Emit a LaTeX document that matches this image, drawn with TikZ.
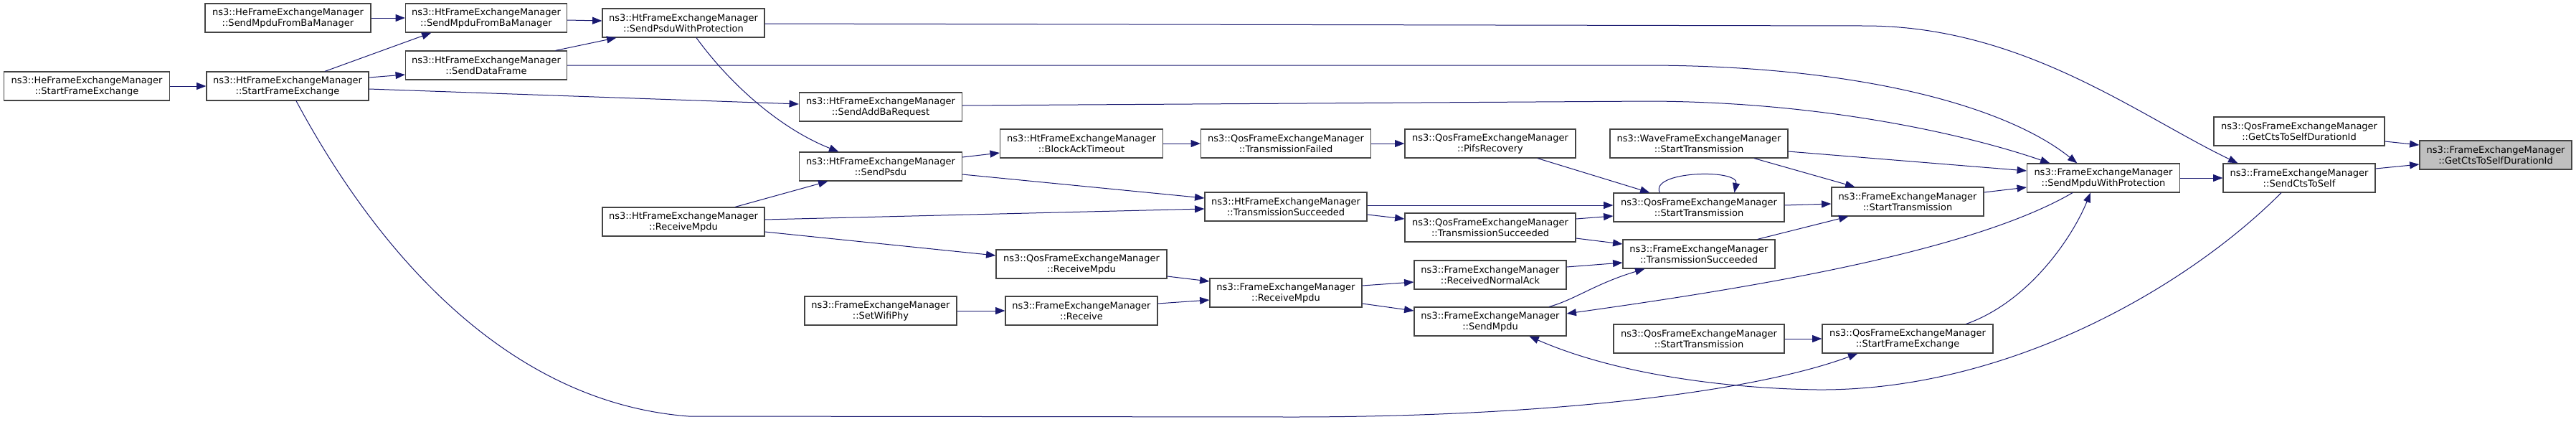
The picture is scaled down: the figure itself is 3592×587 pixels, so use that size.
\documentclass[tikz,border=0pt]{standalone}
\usepackage{fontspec}
\setmainfont{DejaVu Sans}
\usetikzlibrary{calc,arrows.meta}
\definecolor{edgecol}{HTML}{191970}
\definecolor{bordercol}{HTML}{444444}
\definecolor{grey75}{HTML}{BFBFBF}
\newcommand{\nodefont}{\fontsize{9.75pt}{11.25pt}\selectfont}
\begin{document}
\begin{tikzpicture}[x=0.75pt,y=-0.75pt,
  fb/.style={draw=bordercol, line width=0.9pt, fill=white, minimum width=#1*0.75pt,
    minimum height=30pt, inner sep=0pt, align=center, font=\nodefont},
  cl/.style={draw=edgecol, line width=0.75pt, -{Triangle[length=10pt,width=7.5pt]}}]
\useasboundingbox (0,0) rectangle (3592,587);

\node[fb=231] (heSFE) at (121,120) {ns3::HeFrameExchangeManager\\::StartFrameExchange};
\node[fb=231] (heSMBA) at (401.5,25) {ns3::HeFrameExchangeManager\\::SendMpduFromBaManager};
\node[fb=226] (htSFE) at (401,120) {ns3::HtFrameExchangeManager\\::StartFrameExchange};
\node[fb=225] (htSMBA) at (678,25) {ns3::HtFrameExchangeManager\\::SendMpduFromBaManager};
\node[fb=225] (htSDF) at (678,91) {ns3::HtFrameExchangeManager\\::SendDataFrame};
\node[fb=226] (htSPWP) at (953,32) {ns3::HtFrameExchangeManager\\::SendPsduWithProtection};
\node[fb=227] (htSABR) at (1228,149) {ns3::HtFrameExchangeManager\\::SendAddBaRequest};
\node[fb=227] (htSP) at (1228,232) {ns3::HtFrameExchangeManager\\::SendPsdu};
\node[fb=226] (htRM) at (953,309) {ns3::HtFrameExchangeManager\\::ReceiveMpdu};
\node[fb=212] (fSWP) at (1228,433) {ns3::FrameExchangeManager\\::SetWifiPhy};
\node[fb=227] (htBAT) at (1508,200) {ns3::HtFrameExchangeManager\\::BlockAckTimeout};
\node[fb=237] (qTF) at (1793,200) {ns3::QosFrameExchangeManager\\::TransmissionFailed};
\node[fb=226] (htTS) at (1793,288) {ns3::HtFrameExchangeManager\\::TransmissionSucceeded};
\node[fb=238] (qRM) at (1508,368) {ns3::QosFrameExchangeManager\\::ReceiveMpdu};
\node[fb=212] (fR) at (1508,433) {ns3::FrameExchangeManager\\::Receive};
\node[fb=212] (fRM) at (1793,408) {ns3::FrameExchangeManager\\::ReceiveMpdu};
\node[fb=238] (qPR) at (2078,200) {ns3::QosFrameExchangeManager\\::PifsRecovery};
\node[fb=248] (wST) at (2369,200) {ns3::WaveFrameExchangeManager\\::StartTransmission};
\node[fb=238] (qST) at (2369,289) {ns3::QosFrameExchangeManager\\::StartTransmission};
\node[fb=238] (qTS) at (2078,317) {ns3::QosFrameExchangeManager\\::TransmissionSucceeded};
\node[fb=212] (fTS) at (2369,354) {ns3::FrameExchangeManager\\::TransmissionSucceeded};
\node[fb=212] (fRNA) at (2078,383) {ns3::FrameExchangeManager\\::ReceivedNormalAck};
\node[fb=212] (fSM) at (2078,448) {ns3::FrameExchangeManager\\::SendMpdu};
\node[fb=238] (qST2) at (2369,472) {ns3::QosFrameExchangeManager\\::StartTransmission};
\node[fb=212] (fST) at (2660,281) {ns3::FrameExchangeManager\\::StartTransmission};
\node[fb=213] (fSMWP) at (2933,248) {ns3::FrameExchangeManager\\::SendMpduWithProtection};
\node[fb=238] (qSFE) at (2660,472) {ns3::QosFrameExchangeManager\\::StartFrameExchange};
\node[fb=238] (qGCTS) at (3206,183) {ns3::QosFrameExchangeManager\\::GetCtsToSelfDurationId};
\node[fb=212] (fSCTS) at (3206,248) {ns3::FrameExchangeManager\\::SendCtsToSelf};
\node[fb=212,fill=grey75] (fGCTS) at (3480,216) {ns3::FrameExchangeManager\\::GetCtsToSelfDurationId};

% edges
\draw[cl] (heSMBA.east) -- (htSMBA.west);
\draw[cl] (heSFE.east) -- (htSFE.west);
\draw[cl] ($(htSFE.north)+(52,0)$) -- ($(htSMBA.south west)+(36.5,0)$);
\draw[cl] ($(htSFE.east)+(0,-12)$) -- ($(htSDF.west)+(0,13)$);
\draw[cl] ($(htSFE.east)+(0,4)$) -- ($(htSABR.west)+(0,-4)$);
\draw[cl] ($(htSFE.south)+(12,0)$) .. controls (520,340) and (700,560) .. (960,580)
   -- (1800,581) .. controls (2150,581) and (2440,548) .. ($(qSFE.south west)+(50,0)$);
\draw[cl] ($(htSMBA.east)+(0,3)$) -- ($(htSPWP.west)+(0,-3)$);
\draw[cl] ($(htSDF.north east)+(-16.5,0)$) -- ($(htSPWP.south west)+(20,0)$);
\draw[cl] (htSDF.east) -- (2300,91) .. controls (2600,92) and (2800,150) .. ($(fSMWP.north west)+(70.5,0)$);
\draw[cl] ($(htSPWP.east)+(0,1)$) -- (2600,36) .. controls (2820,36) and (2980,160) .. ($(fSCTS.north west)+(21,0)$);
\draw[cl] ($(htSPWP.south)+(18,0)$) .. controls (1020,120) and (1090,180) .. ($(htSP.north west)+(55.5,0)$);
\draw[cl] ($(htSABR.east)+(0,-2)$) -- (2300,141) .. controls (2550,142) and (2750,190) .. ($(fSMWP.north west)+(32.5,0)$);
\draw[cl] ($(htSP.east)+(0,-13)$) -- ($(htBAT.west)+(0,13)$);
\draw[cl] ($(htSP.east)+(0,11)$) -- ($(htTS.west)+(0,-12)$);
\draw[cl] ($(htRM.north)+(72,0)$) -- ($(htSP.south west)+(40.5,0)$);
\draw[cl] ($(htRM.east)+(0,-3)$) -- ($(htTS.west)+(0,3)$);
\draw[cl] ($(htRM.east)+(0,14)$) -- ($(qRM.west)+(0,-12)$);
\draw[cl] (fSWP.east) -- (fR.west);
\draw[cl] (htBAT.east) -- (qTF.west);
\draw[cl] (qTF.east) -- (qPR.west);
\draw[cl] ($(qPR.south)+(66,0)$) -- ($(qST.north west)+(51,0)$);
\draw[cl] ($(htTS.east)+(0,-2)$) -- ($(qST.west)+(0,-3)$);
\draw[cl] ($(htTS.east)+(0,11)$) -- ($(qTS.west)+(0,-12)$);
\draw[cl] ($(qRM.east)+(0,17)$) -- ($(fRM.west)+(0,-16)$);
\draw[cl] ($(fR.east)+(0,-10)$) -- ($(fRM.west)+(0,10)$);
\draw[cl] ($(fRM.east)+(0,-10)$) -- ($(fRNA.west)+(0,10)$);
\draw[cl] ($(fRM.east)+(0,15)$) -- ($(fSM.west)+(0,-15)$);
\draw[cl] ($(qTS.east)+(0,-12)$) -- ($(qST.west)+(0,12)$);
\draw[cl] ($(qTS.east)+(0,15)$) -- ($(fTS.west)+(0,-14)$);
\draw[cl] ($(fRNA.east)+(0,-11)$) -- ($(fTS.west)+(0,12)$);
\draw[cl] ($(fSM.north)+(82,0)$) .. controls (2195,418) and (2225,395) .. ($(fTS.south west)+(31,0)$);
\draw[cl] ($(qST.north west)+(65,0)$) .. controls (2300,238) and (2425,235) .. ($(qST.north west)+(169,0)$);
\draw[cl] ($(qST.east)+(0,-3)$) -- ($(fST.west)+(0,3)$);
\draw[cl] ($(wST.south)+(77,0)$) -- ($(fST.north west)+(33,0)$);
\draw[cl] ($(wST.east)+(0,11)$) -- ($(fSMWP.west)+(0,-10)$);
\draw[cl] ($(fTS.north east)+(-25,0)$) -- ($(fST.south west)+(24,0)$);
\draw[cl] ($(fST.east)+(0,-13)$) -- ($(fSMWP.west)+(0,13)$);
\draw[cl] ($(fSMWP.south)+(-43,0)$) .. controls (2750,350) and (2450,400) .. ($(fSM.east)+(0,-11)$);
\draw[cl] (fSMWP.east) -- (fSCTS.west);
\draw[cl] (qST2.east) -- (qSFE.west);
\draw[cl] ($(qSFE.north east)+(-38,0)$) .. controls (2830,420) and (2890,330) .. ($(fSMWP.south)+(-18,0)$);
\draw[cl] ($(fSCTS.south)+(-25,0)$) .. controls (3050,400) and (2800,545) .. (2534,543)
   .. controls (2400,541) and (2250,520) .. ($(fSM.south west)+(161,0)$);
\draw[cl] ($(fSCTS.east)+(0,-13)$) -- ($(fGCTS.west)+(0,13)$);
\draw[cl] ($(qGCTS.east)+(0,14)$) -- ($(fGCTS.west)+(0,-14)$);
\end{tikzpicture}
\end{document}
